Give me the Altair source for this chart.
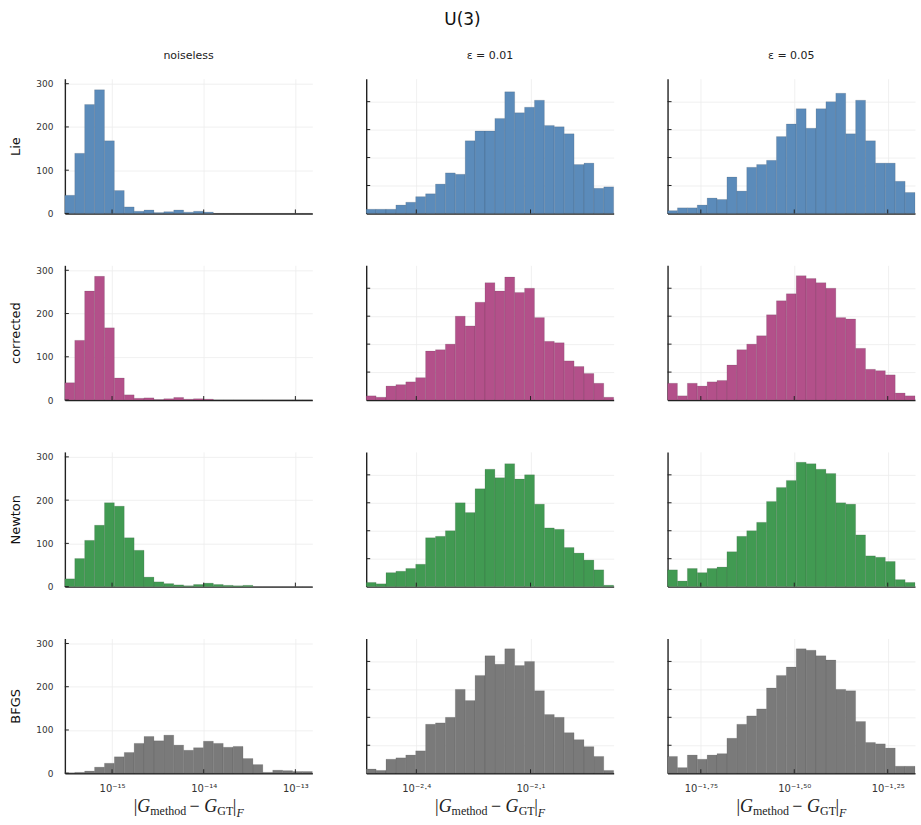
import altair as alt
import pandas as pd

# ---------------- data ----------------
row_names = ["Lie", "corrected", "Newton", "BFGS"]
col_names = ["noiseless", "ε = 0.01", "ε = 0.05"]
row_colors = ["#5b8bba", "#b3508a", "#419a52", "#7a7a7a"]

# histogram bins in log10 space (25 bins per column)
bin_lo = [-15.515, -2.5316, -1.839]
bin_w = [0.108, 0.026, 0.02648]
n_bins = 25

x_tick_vals = [[-15, -14, -13], [-2.4, -2.1], [-1.75, -1.5, -1.25]]
x_tick_text = [["10⁻¹⁵", "10⁻¹⁴", "10⁻¹³"],
               ["10⁻²·⁴", "10⁻²·¹"],
               ["10⁻¹·⁷⁵", "10⁻¹·⁵⁰", "10⁻¹·²⁵"]]
y_top = [311.5, 96.4, 96.4]
y_tick_vals = [[0, 100, 200, 300], [20, 40, 60, 80], [20, 40, 60, 80]]

# counts[row][col]
lie_noiseless = [42, 139, 252, 286, 168, 53, 15, 5, 8, 2, 4, 8, 3, 5, 3, 0, 0, 0, 0, 0, 0, 0, 0, 0, 0]
lie_001 = [3, 3, 3, 6, 8, 12, 14, 21, 29, 28, 52, 59, 59, 68, 87, 72, 76, 81, 63, 62, 57, 35, 36, 18, 19]
lie_005 = [2, 4, 4, 6, 11, 10, 26, 16, 33, 35, 38, 55, 64, 75, 61, 75, 80, 86, 57, 81, 52, 36, 36, 23, 15]

cor_noiseless = [40, 138, 252, 286, 167, 51, 12, 4, 5, 1, 3, 6, 2, 3, 2, 0, 0, 0, 0, 0, 0, 0, 0, 0, 0]
cor_001 = [3, 2, 10, 11, 13, 16, 35, 36, 40, 60, 53, 70, 84, 78, 88, 77, 80, 59, 42, 41, 28, 24, 19, 12, 2]
cor_005 = [12, 3, 12, 10, 13, 14, 25, 36, 40, 46, 61, 71, 76, 89, 87, 84, 80, 59, 58, 37, 22, 21, 18, 5, 3]

new_noiseless = [18, 65, 107, 142, 194, 186, 113, 84, 22, 11, 7, 4, 2, 5, 8, 5, 3, 2, 3, 0, 0, 0, 0, 0, 0]
new_001 = [3, 2, 10, 11, 13, 16, 35, 36, 40, 60, 53, 70, 84, 78, 88, 77, 80, 59, 42, 41, 28, 24, 19, 12, 1]
new_005 = [12, 4, 13, 10, 13, 14, 25, 36, 40, 46, 61, 71, 76, 89, 88, 84, 81, 60, 59, 37, 22, 21, 18, 5, 3]

bfgs_noiseless = [1, 2, 5, 14, 23, 38, 48, 69, 85, 75, 88, 65, 53, 59, 74, 69, 60, 62, 34, 20, 2, 7, 6, 4, 4]
bfgs_001 = [3, 2, 10, 11, 13, 16, 35, 36, 40, 60, 52, 70, 84, 78, 89, 77, 80, 59, 42, 40, 29, 24, 19, 12, 2]
bfgs_005 = [12, 4, 13, 10, 13, 14, 25, 35, 41, 46, 61, 70, 76, 89, 88, 84, 81, 60, 59, 37, 22, 21, 18, 5, 5]

counts = [
    [lie_noiseless, lie_001, lie_005],
    [cor_noiseless, cor_001, cor_005],
    [new_noiseless, new_001, new_005],
    [bfgs_noiseless, bfgs_001, bfgs_005],
]

# ---------------- layout ----------------
W, H = 248, 135
FONT = "DejaVu Sans"
SERIF = "Liberation Serif"


def label_expr(c):
    parts = []
    for v, t in zip(x_tick_vals[c], x_tick_text[c]):
        parts.append(f"abs(datum.value - ({v})) < 1e-6 ? '{t}'")
    return " : ".join(parts) + " : ''"


def piece(text, dx, dy, size, italic):
    x0 = W / 2 - 55
    return alt.Chart(pd.DataFrame({"t": [text]})).mark_text(
        align="left", baseline="alphabetic", font=SERIF, fontSize=size,
        fontStyle="italic" if italic else "normal", color="#222222"
    ).encode(text="t:N", x=alt.value(x0 + dx), y=alt.value(H + dy))


def xlabel_layers():
    return [
        piece("|", 0, 39, 18, False),
        piece("G", 3.6, 39, 18, True),
        piece("method", 16.6, 42, 12, False),
        piece("−", 56, 39, 18, False),
        piece("G", 70.7, 39, 18, True),
        piece("GT", 83.8, 42, 12, False),
        piece("|", 99.3, 39, 18, False),
        piece("F", 102.9, 44, 12, True),
    ]


def panel(r, c):
    lo = [bin_lo[c] + i * bin_w[c] for i in range(n_bins)]
    hi = [bin_lo[c] + (i + 1) * bin_w[c] for i in range(n_bins)]
    df = pd.DataFrame({"lo": lo, "hi": hi, "count": counts[r][c]})
    bottom = r == 3
    xscale = alt.Scale(domain=[bin_lo[c], bin_lo[c] + n_bins * bin_w[c]], nice=False, zero=False)
    yscale = alt.Scale(domain=[0, y_top[c]], nice=False)
    xaxis = alt.Axis(
        values=x_tick_vals[c], labels=bottom, labelExpr=label_expr(c),
        ticks=False, domain=True, domainColor="#222222", domainWidth=1.4,
        grid=True, gridColor="#ececec", gridWidth=0.8, title=None,
        labelFont=FONT, labelFontSize=10, labelColor="#333333", labelPadding=10,
    )
    yaxis = alt.Axis(
        values=y_tick_vals[c], labels=(c == 0), ticks=False, domain=True,
        domainColor="#222222", domainWidth=1.4, grid=True, gridColor="#ececec",
        gridWidth=0.8, title=row_names[r] if c == 0 else None,
        labelFont=FONT, labelFontSize=9, labelColor="#333333", labelPadding=12,
        titleFont=FONT, titleFontSize=13, titleFontWeight="normal",
        titleColor="#111111", titlePadding=13,
    )
    bars = alt.Chart(df).mark_bar(
        color=row_colors[r], stroke="#333333", strokeWidth=0.4, strokeOpacity=0.35
    ).encode(
        x=alt.X("lo:Q", scale=xscale, axis=xaxis),
        x2="hi:Q",
        y=alt.Y("count:Q", scale=yscale, axis=yaxis),
        y2=alt.datum(0),
    )
    ytk = alt.Chart(pd.DataFrame({"v": y_tick_vals[c]})).mark_rule(
        color="#222222", strokeWidth=1
    ).encode(y=alt.Y("v:Q", scale=yscale, axis=yaxis), x=alt.value(0), x2=alt.value(4))
    xtk = alt.Chart(pd.DataFrame({"v": x_tick_vals[c]})).mark_rule(
        color="#222222", strokeWidth=1
    ).encode(x=alt.X("v:Q", scale=xscale, axis=xaxis), y=alt.value(H), y2=alt.value(H - 4))
    layers = [bars, ytk, xtk]
    if bottom:
        layers += xlabel_layers()
    props = dict(width=W, height=H)
    if r == 0:
        props["title"] = alt.TitleParams(
            col_names[c], fontSize=11, fontWeight="normal", font=FONT,
            color="#222222", anchor="middle", frame="group", offset=18,
        )
    return alt.layer(*layers).properties(**props)


rows = []
for r in range(4):
    rows.append(alt.hconcat(*[panel(r, c) for c in range(3)], spacing=52))

chart = alt.vconcat(*rows, spacing=47).properties(
    title=alt.TitleParams("U(3)", fontSize=17, fontWeight="normal", font=FONT,
                          color="#111111", anchor="middle", offset=21),
    padding={"left": 9, "top": 10, "right": 5, "bottom": 5},
).configure_view(stroke=None).configure_concat(spacing=47)

chart.save("out.html", embed_options={"renderer": "svg", "actions": False})
